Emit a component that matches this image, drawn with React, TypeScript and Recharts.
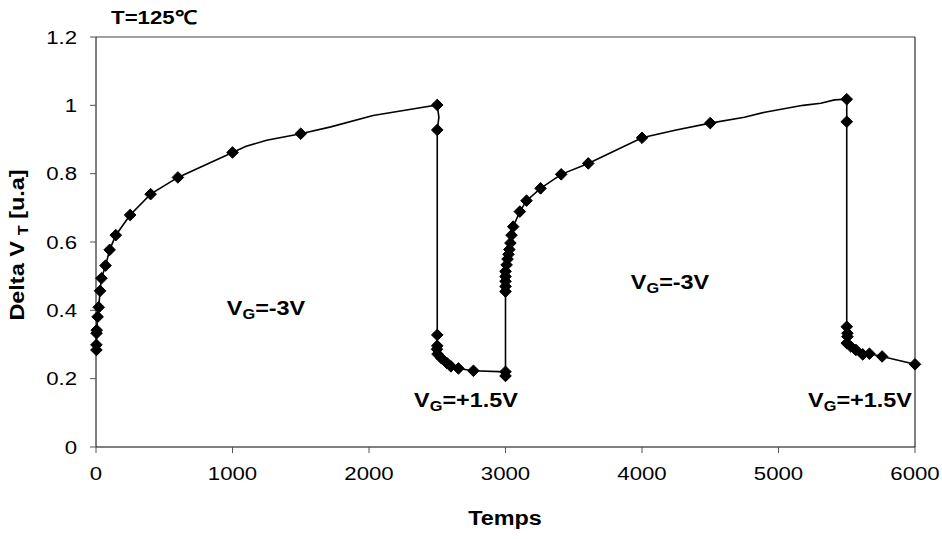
import React from "react";
import {
  LineChart,
  Line,
  XAxis,
  YAxis,
  ReferenceLine,
} from "recharts";

// Temps (s) of each measure
const TIMES = [
  3, 3, 4, 5, 12, 20, 30, 40, 70, 100, 145, 250, 400, 600, 1000, 1100, 1250, 1500,
  1720, 2030, 2330, 2500, 2512, 2500,
  2500, 2500, 2498, 2502, 2530, 2570, 2600, 2655, 2765, 3000, 3000,
  3000, 3000, 3000, 3000, 3000, 3008, 3015, 3022, 3028, 3036, 3044, 3056, 3105,
  3154, 3257, 3408, 3606, 4000, 4250, 4500, 4750, 4900, 5180, 5310, 5410, 5500,
  5500,
  5500, 5505, 5505, 5500, 5530, 5567, 5617, 5666, 5759, 6000,
];

// Delta VT [u.a]
const DELTA_VT = [
  0.284, 0.299, 0.333, 0.342, 0.381, 0.409, 0.457, 0.494, 0.531, 0.577, 0.62,
  0.679, 0.74, 0.789, 0.862, 0.88, 0.898, 0.917, 0.937, 0.97, 0.99, 1.001, 0.965,
  0.928,
  0.328, 0.296, 0.286, 0.272, 0.26, 0.246, 0.236, 0.23, 0.223, 0.22, 0.208,
  0.455, 0.47, 0.485, 0.499, 0.514, 0.533, 0.55, 0.564, 0.578, 0.597, 0.62,
  0.645, 0.689, 0.721, 0.757, 0.798, 0.83, 0.905, 0.928, 0.948, 0.965, 0.98,
  1.0, 1.006, 1.016, 1.018, 0.952,
  0.352, 0.333, 0.323, 0.304, 0.294, 0.284, 0.271, 0.273, 0.265, 0.242,
];

// points drawn without a marker (only the line passes there)
const NO_MARKER = [15, 16, 18, 19, 20, 22, 53, 55, 56, 57, 58, 59];

const X_TICKS = [0, 1000, 2000, 3000, 4000, 5000, 6000];
const Y_TICKS = [0, 0.2, 0.4, 0.6, 0.8, 1, 1.2];

const data = TIMES.map((t, i) => ({
  t,
  v: DELTA_VT[i],
  mark: !NO_MARKER.includes(i),
}));

const FONT = '"Liberation Sans", Arial, sans-serif';
const STRETCH = 1.17;

const Diamond = (props: any) => {
  const { cx, cy, payload, index } = props;
  if (!payload || !payload.mark || cx == null || cy == null) return <g key={`d-${index}`} />;
  const r = 5.8;
  return (
    <path
      key={`d-${index}`}
      d={`M${cx},${cy - r}L${cx + r},${cy}L${cx},${cy + r}L${cx - r},${cy}Z`}
      fill="#000"
      stroke="#000"
    />
  );
};

const XTick = (props: any) => {
  const { x, y, payload } = props;
  return (
    <text
      transform={`translate(${x},${y}) scale(${STRETCH},1)`}
      textAnchor="middle"
      dy="0.71em"
      fontSize={19}
      fontFamily={FONT}
      fill="#000"
    >
      {payload.value}
    </text>
  );
};

const YTick = (props: any) => {
  const { x, y, payload } = props;
  return (
    <text
      transform={`translate(${x},${y}) scale(${STRETCH},1)`}
      textAnchor="end"
      dy="0.35em"
      fontSize={19}
      fontFamily={FONT}
      fill="#000"
    >
      {payload.value}
    </text>
  );
};

const boldText: React.CSSProperties = {
  position: "absolute",
  fontFamily: FONT,
  fontWeight: "bold",
  fontSize: 20,
  color: "#000",
  whiteSpace: "nowrap",
  lineHeight: 1,
};

const VG = ({ label, left, top }: { label: string; left: number; top: number }) => (
  <div
    style={{
      ...boldText,
      left,
      top,
      transform: `translate(-50%,-50%) scaleX(${STRETCH})`,
    }}
  >
    V<sub style={{ fontSize: 14, verticalAlign: "-4px" }}>G</sub>
    {label}
  </div>
);

export default function App() {
  return (
    <div
      style={{
        position: "absolute",
        left: 0,
        top: 0,
        width: 942,
        height: 539,
        background: "#fff",
      }}
    >
      <LineChart
        width={942}
        height={539}
        data={data}
        margin={{ top: 37, right: 27, bottom: 62, left: 36 }}
      >
        <XAxis
          dataKey="t"
          type="number"
          domain={[0, 6000]}
          ticks={X_TICKS}
          interval={0}
          height={30}
          stroke="#000"
          tickLine={{ stroke: "#555" }}
          tickSize={6}
          tickMargin={14}
          tick={<XTick />}
        />
        <YAxis
          type="number"
          domain={[0, 1.2]}
          ticks={Y_TICKS}
          interval={0}
          width={60}
          stroke="#000"
          tickLine={{ stroke: "#555" }}
          tickSize={6}
          tickMargin={13}
          tick={<YTick />}
        />
        <ReferenceLine y={1.2} stroke="#808080" strokeWidth={1.5} />
        <ReferenceLine x={6000} stroke="#000" strokeWidth={1} />
        <Line
          type="linear"
          dataKey="v"
          stroke="#000"
          strokeWidth={1.6}
          dot={<Diamond />}
          activeDot={false}
          isAnimationActive={false}
        />
      </LineChart>

      <div
        style={{
          ...boldText,
          fontSize: 19,
          left: 154,
          top: 17,
          transform: `translate(-50%,-50%) scaleX(${STRETCH})`,
        }}
      >
        T=125℃
      </div>
      <div
        style={{
          ...boldText,
          left: 505,
          top: 518,
          transform: `translate(-50%,-50%) scaleX(${STRETCH})`,
        }}
      >
        Temps
      </div>
      <div
        style={{
          ...boldText,
          left: 18,
          top: 245,
          transform: `translate(-50%,-50%) rotate(-90deg) scaleX(${STRETCH})`,
        }}
      >
        Delta V
        <sub style={{ fontSize: 14, verticalAlign: "-4px", marginLeft: 5 }}>T</sub>{" "}
        [u.a]
      </div>

      <VG label="=-3V" left={266} top={309} />
      <VG label="=+1.5V" left={466} top={401} />
      <VG label="=-3V" left={670} top={283} />
      <VG label="=+1.5V" left={860} top={401} />
    </div>
  );
}
